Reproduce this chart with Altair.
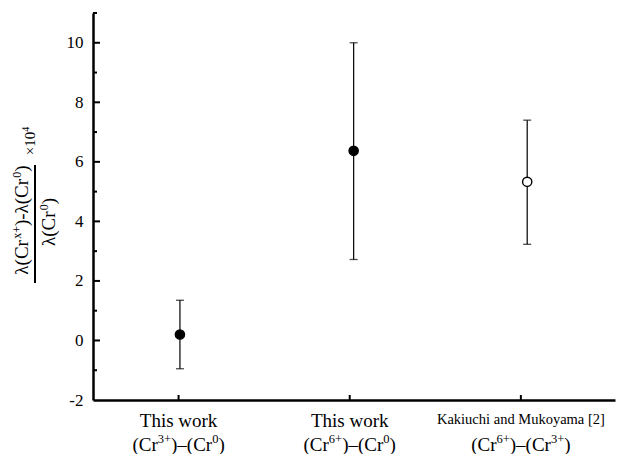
import altair as alt
import pandas as pd

# ---- data ----
tick_pos = [1, 2, 3]
label_line1 = ["This work", "This work", "Kakiuchi and Mukoyama [2]"]
ion_from = ["3+", "6+", "6+"]     # (Cr^a)–(Cr^b)
ion_to = ["0", "0", "3+"]
point_x = [1.008, 2.023, 3.037]
center = [0.2, 6.37, 5.33]
err_low = [-0.95, 2.72, 3.23]
err_high = [1.35, 10.0, 7.40]
marker_kind = ["filled", "filled", "open"]

y_major = [0, 2, 4, 6, 8, 10]
y_minor = [-1, 1, 3, 5, 7, 9, 11]
y_labels = [-2, 0, 2, 4, 6, 8, 10]

FONT = "Liberation Serif"
W, H = 522, 387

# approximate Times advance widths (em) for laying out superscript pieces
CW = {"(": .333, ")": .333, "C": .667, "r": .333, "–": .5, "-": .333, "+": .564,
      "x": .5, "λ": .55, "×": .564}


def text_w(s, size):
    return sum(CW.get(ch, .5) for ch in s) * size


def pieces(parts, base, sup):
    """parts: list of (text, is_sup). returns list of (text, size, dx_start, is_sup)"""
    widths = [text_w(t, sup if s else base) for t, s in parts]
    total = sum(widths)
    out, cur = [], -total / 2
    for (t, s), w in zip(parts, widths):
        out.append((t, sup if s else base, cur, s))
        cur += w
    return out


pts = pd.DataFrame({"px": point_x, "c": center, "lo": err_low, "hi": err_high, "kind": marker_kind})
cats = pd.DataFrame({"tp": tick_pos, "l1": label_line1})
major = pd.DataFrame({"v": y_major})
minor = pd.DataFrame({"v": y_minor})

xs = alt.Scale(domain=[0.5, 3.55], nice=False, zero=False)
ys = alt.Scale(domain=[-2, 11], nice=False, zero=False)

base = alt.Chart(pts)

err = base.mark_rule(color="black", strokeWidth=1.2).encode(
    x=alt.X("px:Q", scale=xs,
            axis=alt.Axis(labels=False, ticks=False, grid=False, title=None,
                          domainColor="black", domainWidth=2.5)),
    y=alt.Y("lo:Q", scale=ys,
            axis=alt.Axis(values=y_labels, ticks=False, grid=False, title=None,
                          labelFont=FONT, labelFontSize=17, labelColor="black",
                          labelExpr="replace(datum.label, '−', '-')",
                          labelPadding=10, domainColor="black", domainWidth=2.5)),
    y2="hi:Q",
)
cap_lo = base.mark_tick(orient="horizontal", size=8, thickness=1.3, color="black").encode(
    x=alt.X("px:Q", scale=xs), y=alt.Y("lo:Q", scale=ys))
cap_hi = base.mark_tick(orient="horizontal", size=8, thickness=1.3, color="black").encode(
    x=alt.X("px:Q", scale=xs), y=alt.Y("hi:Q", scale=ys))
dots = base.mark_circle(size=85, opacity=1, stroke="black", strokeWidth=1.4).encode(
    x=alt.X("px:Q", scale=xs), y=alt.Y("c:Q", scale=ys),
    fill=alt.Fill("kind:N", scale=alt.Scale(domain=["filled", "open"], range=["black", "white"]), legend=None),
)

maj_ticks = alt.Chart(major).mark_rule(color="black", strokeWidth=2).encode(
    y=alt.Y("v:Q", scale=ys), x=alt.value(0), x2=alt.value(7))
min_ticks = alt.Chart(minor).mark_rule(color="black", strokeWidth=2).encode(
    y=alt.Y("v:Q", scale=ys), x=alt.value(0), x2=alt.value(4))
x_ticks = alt.Chart(cats).mark_rule(color="black", strokeWidth=2).encode(
    x=alt.X("tp:Q", scale=xs), y=alt.value(H), y2=alt.value(H - 5))

layers = [err, cap_lo, cap_hi, dots, maj_ticks, min_ticks, x_ticks]

# first line of category labels
layers.append(alt.Chart(cats).transform_filter("datum.tp < 3").mark_text(
    font=FONT, fontSize=19, color="black", baseline="alphabetic").encode(
    x=alt.X("tp:Q", scale=xs), y=alt.value(414), text="l1:N"))
layers.append(alt.Chart(cats).transform_filter("datum.tp == 3").mark_text(
    font=FONT, fontSize=14.5, color="black", baseline="alphabetic").encode(
    x=alt.X("tp:Q", scale=xs), y=alt.value(411), text="l1:N"))

# second line: (Cr^a)–(Cr^b) built from pieces
for i in range(len(tick_pos)):
    parts = [("(Cr", False), (ion_from[i], True), (")–(Cr", False), (ion_to[i], True), (")", False)]
    one = pd.DataFrame({"tp": [tick_pos[i]]})
    for t, size, dx, is_sup in pieces(parts, 19, 12.5):
        layers.append(alt.Chart(one).mark_text(
            font=FONT, fontSize=size, color="black", baseline="alphabetic", align="left",
            dx=dx, dy=-8 if is_sup else 0).encode(
            x=alt.X("tp:Q", scale=xs), y=alt.value(437.5), text=alt.value(t)))

# rotated y-axis title built as a fraction
one_row = pd.DataFrame({"k": [0]})


def rotated(parts, base, sup, bx, cy, sup_dy):
    out = []
    for t, size, dx, is_sup in pieces(parts, base, sup):
        out.append(alt.Chart(one_row).mark_text(
            font=FONT, fontSize=size, color="black", baseline="alphabetic", align="left",
            angle=270, dx=dx, dy=sup_dy if is_sup else 0).encode(
            x=alt.value(bx), y=alt.value(cy), text=alt.value(t)))
    return out


layers += rotated([("λ(Cr", False), ("x+", True), (")-λ(Cr", False), ("0", True), (")", False)],
                  19, 12, -65, 207, -7)
layers += rotated([("λ(Cr", False), ("0", True), (")", False)], 19, 12, -38, 209, -7)
layers += rotated([("×10", False), ("4", True)], 15, 10, -58, 128, -6)
layers.append(alt.Chart(one_row).mark_rule(color="black", strokeWidth=2).encode(
    x=alt.value(-58), y=alt.value(152), y2=alt.value(270)))

chart = alt.layer(*layers).properties(
    width=W, height=H,
    autosize=alt.AutoSizeParams(type="none"),
    padding={"left": 85, "top": 5, "right": 7, "bottom": 60},
    background="white",
).configure_view(stroke=None)

chart.save("out.html", embed_options={"renderer": "svg", "actions": False})
